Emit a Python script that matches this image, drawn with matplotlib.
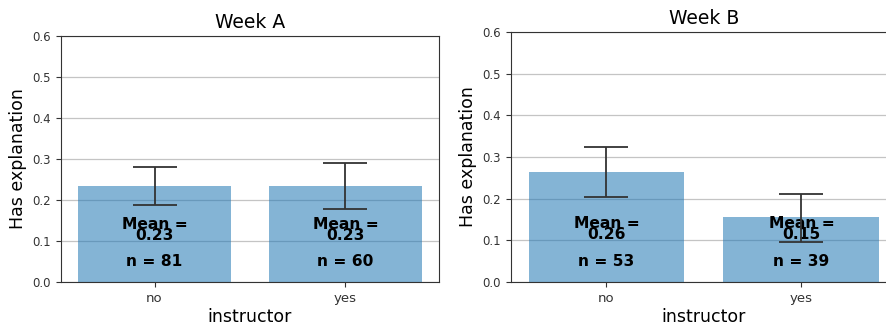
import numpy as np
import matplotlib.pyplot as plt

categories = ['no', 'yes']
titles = ['Week A', 'Week B']
means = [[0.234, 0.234], [0.265, 0.156]]
err_low = [[0.188, 0.178], [0.204, 0.097]]
err_high = [[0.280, 0.290], [0.325, 0.212]]
mean_labels = [['0.23', '0.23'], ['0.26', '0.15']]
counts = [[81, 60], [53, 39]]

fig = plt.figure(figsize=(8.86, 3.24), dpi=100)
ax_a = fig.add_axes([0.0688, 0.1296, 0.4267, 0.7593])
ax_b = fig.add_axes([0.5767, 0.1296, 0.4357, 0.7716])

for ax, title, m, lo, hi, ml, n in zip([ax_a, ax_b], titles, means, err_low,
                                       err_high, mean_labels, counts):
    x = np.arange(len(categories))
    m = np.array(m)
    yerr = [m - np.array(lo), np.array(hi) - m]
    ax.grid(axis='y', color='#c4c4c4', linewidth=0.9, zorder=0)
    ax.bar(x, m, width=0.8, color='#1f77b4', alpha=0.55, zorder=2)
    for xi in x:
        ax.text(xi, 0.127, 'Mean =\n' + ml[xi], ha='center', va='center',
                fontsize=11.2, fontweight='bold', linespacing=0.72, zorder=3)
        ax.text(xi, 0.05, 'n = %d' % n[xi], ha='center', va='center',
                fontsize=11.2, fontweight='bold', zorder=3)
    ax.errorbar(x, m, yerr=yerr, fmt='none', ecolor='#333333', elinewidth=1.3,
                capsize=16, capthick=1.3, zorder=4)
    ax.set_ylim(0, 0.6)
    ax.set_yticks(np.arange(0, 0.61, 0.1))
    ax.set_yticklabels(['%.1f' % v for v in np.arange(0, 0.61, 0.1)])
    ax.set_xticks(x)
    ax.set_xticklabels(categories, fontsize=9.5)
    ax.tick_params(axis='y', labelsize=8.5)
    ax.tick_params(colors='#333333')
    ax.set_title(title, fontsize=13.5)
    ax.set_xlabel('instructor', fontsize=12.5, labelpad=2)
    ax.set_ylabel('Has explanation', fontsize=12.5)
    for s in ax.spines.values():
        s.set_color('#333333')

fig.savefig('out.png', dpi=100)
